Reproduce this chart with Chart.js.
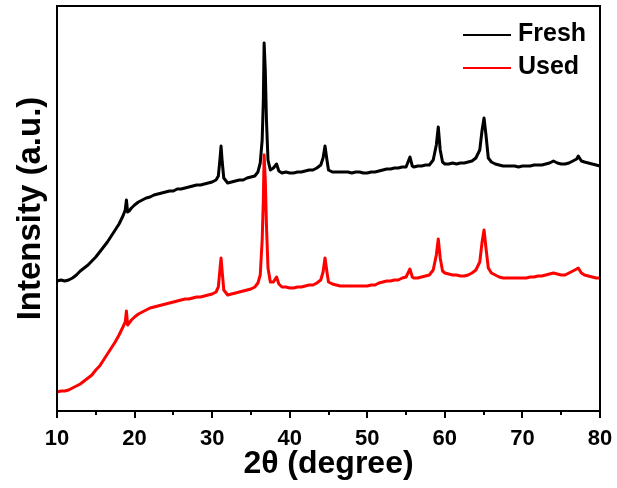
<!DOCTYPE html>
<html>
<head>
<meta charset="utf-8">
<script src="https://cdn.jsdelivr.net/npm/chart.js@4.4.1/dist/chart.umd.min.js"></script>
<style>
  html, body { margin: 0; padding: 0; background: #ffffff; }
  #wrap { width: 617px; height: 488px; }
</style>
</head>
<body>
<div id="wrap"><canvas id="c" width="617" height="488"></canvas></div>
<script>
// 2θ positions (degrees)
const twoTheta = [
  10, 10.5, 11, 11.5, 12, 12.5, 13, 13.5, 14, 14.5,
  15, 15.5, 16, 16.5, 17, 17.5, 18, 18.5, 18.8, 18.95,
  19.1, 19.3, 19.6, 20, 20.5, 21, 21.5, 22, 22.5, 23,
  23.5, 24, 24.5, 25, 25.5, 26, 26.5, 27, 27.5, 28,
  28.5, 29, 29.5, 30, 30.5, 30.8, 31, 31.15, 31.3, 31.5,
  32, 32.5, 33, 33.5, 34, 34.5, 35, 35.5, 35.9, 36.2,
  36.45, 36.6, 36.7, 36.85, 37, 37.2, 37.5, 37.9, 38.3, 38.6,
  39, 39.5, 40, 40.5, 41, 41.5, 42, 42.5, 43, 43.5,
  44, 44.3, 44.55, 44.8, 45, 45.5, 46, 46.5, 47, 47.5,
  48, 48.5, 49, 49.5, 50, 50.5, 51, 51.5, 52, 52.5,
  53, 53.5, 54, 54.5, 55, 55.5, 55.8, 56, 56.5, 57,
  57.5, 58, 58.5, 58.9, 59.15, 59.4, 59.7, 60, 60.5, 61,
  61.5, 62, 62.5, 63, 63.5, 64, 64.5, 64.8, 65.05, 65.3,
  65.6, 66, 66.5, 67, 67.5, 68, 68.5, 69, 69.5, 70,
  70.5, 71, 71.5, 72, 72.5, 73, 73.5, 74, 74.5, 75,
  75.5, 76, 76.5, 77, 77.2, 77.6, 78, 78.5, 79, 79.5,
  80
];
// Intensity (a.u.), Fresh sample
const fresh = [
  130, 131, 130, 131, 133, 136, 140, 143, 146, 150,
  154, 159, 164, 169, 175, 181, 187, 195, 201, 211,
  199, 200, 203, 206, 209, 211, 213, 214, 216, 217,
  218, 219, 220, 220, 222, 222, 223, 224, 225, 226,
  226, 227, 228, 229, 231, 235, 251, 265, 249, 233,
  228, 229, 230, 231, 231, 233, 234, 235, 239, 248,
  271, 311, 368, 341, 291, 251, 241, 243, 247, 240,
  238, 239, 238, 238, 239, 239, 240, 241, 241, 243,
  246, 253, 265, 251, 241, 239, 239, 239, 239, 239,
  238, 239, 239, 238, 238, 239, 239, 240, 241, 242,
  242, 243, 243, 244, 244, 254, 245, 244, 245, 245,
  246, 246, 251, 266, 284, 261, 249, 247, 247, 248,
  247, 248, 248, 249, 250, 253, 261, 281, 293, 276,
  253, 249, 247, 246, 245, 245, 245, 245, 244, 245,
  245, 245, 246, 246, 246, 247, 248, 250, 248, 247,
  247, 248, 250, 252, 255, 250, 249, 248, 247, 246,
  245
];
// Intensity (a.u.), Used sample
const used = [
  19, 20, 20, 21, 23, 25, 27, 30, 33, 36,
  41, 45, 51, 57, 63, 69, 76, 84, 89, 100,
  86, 88, 91, 94, 97, 99, 101, 103, 104, 105,
  106, 107, 108, 109, 110, 111, 112, 112, 113, 114,
  114, 115, 116, 117, 119, 124, 141, 153, 139, 121,
  116, 117, 118, 119, 120, 121, 122, 124, 128, 136,
  171, 211, 256, 231, 186, 143, 129, 129, 134, 127,
  124, 124, 123, 123, 124, 124, 125, 126, 126, 128,
  131, 139, 153, 139, 129, 127, 126, 125, 125, 125,
  125, 125, 125, 125, 125, 126, 126, 128, 129, 130,
  130, 131, 131, 133, 134, 142, 134, 133, 133, 134,
  135, 136, 141, 156, 172, 153, 140, 138, 137, 136,
  136, 135, 135, 136, 138, 141, 149, 169, 181, 163,
  143, 138, 136, 134, 133, 133, 133, 133, 133, 133,
  133, 134, 134, 135, 135, 136, 137, 138, 137, 136,
  136, 138, 140, 142, 143, 138, 136, 135, 134, 133,
  133
];
const seriesLabels = ['Fresh', 'Used'];
const seriesColors = ['#000000', '#ff0000'];
const xMajorTicks = [10, 20, 30, 40, 50, 60, 70, 80];
const xMinorTicks = [15, 25, 35, 45, 55, 65, 75];
const xTitle = '2θ (degree)';
const yTitle = 'Intensity (a.u.)';

const toPoints = (ys) => twoTheta.map((x, i) => ({ x: x, y: ys[i] }));

const framePlugin = {
  id: 'frame',
  afterDraw(chart) {
    const { ctx, chartArea: a, scales } = chart;
    const xs = scales.x;
    ctx.save();
    ctx.strokeStyle = '#000';
    ctx.lineWidth = 2;
    ctx.strokeRect(a.left, a.top, a.right - a.left, a.bottom - a.top);
    ctx.beginPath();
    xMajorTicks.forEach(v => {
      const px = Math.round(xs.getPixelForValue(v));
      ctx.moveTo(px, a.bottom);
      ctx.lineTo(px, a.bottom + 7);
    });
    xMinorTicks.forEach(v => {
      const px = Math.round(xs.getPixelForValue(v));
      ctx.moveTo(px, a.bottom);
      ctx.lineTo(px, a.bottom + 4);
    });
    ctx.stroke();

    // legend
    const lx0 = 463, lx1 = 511, tx = 518;
    const rows = [35, 68];
    ctx.font = 'bold 25px "Liberation Sans", Arial, sans-serif';
    ctx.textBaseline = 'middle';
    ctx.textAlign = 'left';
    chart.data.datasets.forEach((ds, i) => {
      ctx.strokeStyle = ds.borderColor;
      ctx.lineWidth = 2;
      ctx.beginPath();
      ctx.moveTo(lx0, rows[i]);
      ctx.lineTo(lx1, rows[i]);
      ctx.stroke();
      ctx.fillStyle = '#000';
      ctx.fillText(ds.label, tx, rows[i] - 1);
    });
    ctx.restore();
  }
};

new Chart(document.getElementById('c'), {
  type: 'line',
  data: {
    datasets: [
      { label: seriesLabels[0], data: toPoints(fresh), borderColor: seriesColors[0], order: 1 },
      { label: seriesLabels[1], data: toPoints(used), borderColor: seriesColors[1], order: 0 }
    ]
  },
  options: {
    responsive: false,
    animation: false,
    events: [],
    layout: { padding: { top: 6, right: 17, bottom: 0, left: 0 } },
    elements: {
      point: { radius: 0 },
      line: { borderWidth: 3, tension: 0, borderJoinStyle: 'round', borderCapStyle: 'round' }
    },
    plugins: { legend: { display: false }, tooltip: { enabled: false } },
    scales: {
      x: {
        type: 'linear',
        min: 10, max: 80,
        afterFit(s) { s.height = 77; s.paddingLeft = 0; s.paddingRight = 0; },
        afterBuildTicks(s) { s.ticks = xMajorTicks.map(v => ({ value: v })); },
        grid: { display: false },
        border: { display: false },
        ticks: {
          padding: 7,
          color: '#000',
          maxRotation: 0,
          font: { family: '"Liberation Sans", Arial, sans-serif', size: 22, weight: 'bold' }
        },
        title: {
          display: true,
          text: xTitle,
          color: '#000',
          padding: { top: 0, bottom: 8 },
          font: { family: '"Liberation Sans", Arial, sans-serif', size: 32, weight: 'bold', lineHeight: 1 }
        }
      },
      y: {
        type: 'linear',
        min: 0, max: 405,
        afterFit(s) { s.width = 57; s.paddingTop = 0; s.paddingBottom = 0; },
        grid: { display: false },
        border: { display: false },
        ticks: { display: false },
        title: {
          display: true,
          text: yTitle,
          color: '#000',
          padding: { top: 14, bottom: 0 },
          font: { family: '"Liberation Sans", Arial, sans-serif', size: 33, weight: 'bold', lineHeight: 1 }
        }
      }
    }
  },
  plugins: [framePlugin]
});
</script>
</body>
</html>
